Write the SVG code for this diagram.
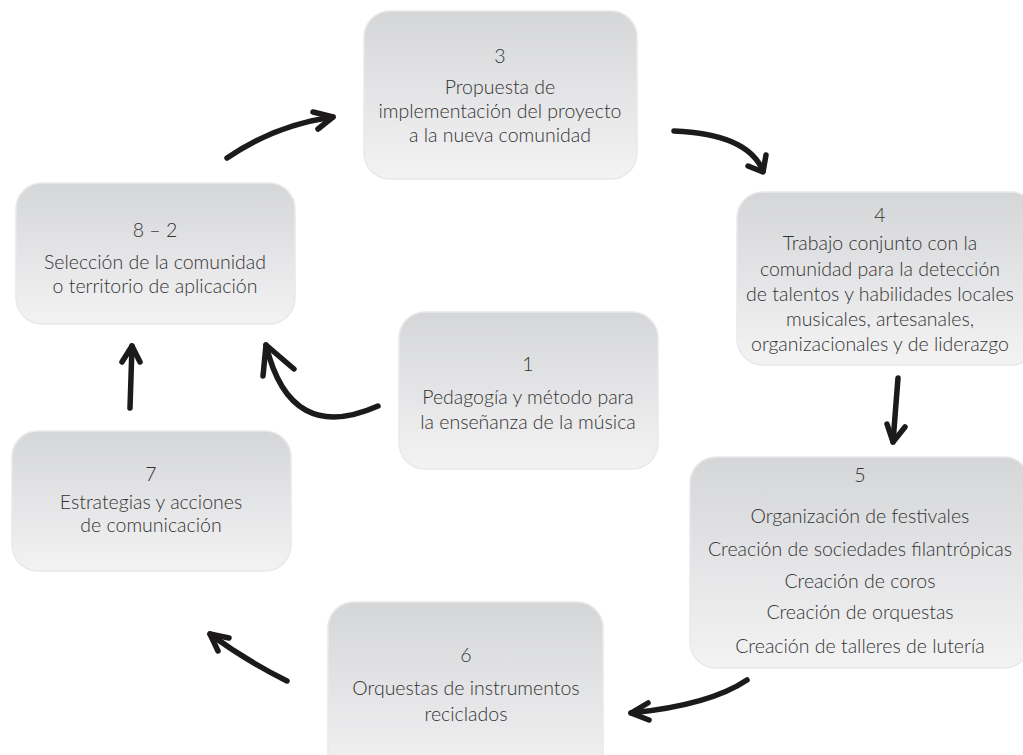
<svg xmlns="http://www.w3.org/2000/svg" width="1023" height="755" viewBox="0 0 1023 755">
<defs>
<linearGradient id="g" x1="0" y1="0" x2="0" y2="1">
<stop offset="0" stop-color="#d5d6d8"/>
<stop offset="1" stop-color="#f3f3f4"/>
</linearGradient>
<style>
.box{fill:url(#g);stroke:#e9e9ea;stroke-width:1.5}
.t{font-family:Lato,"Open Sans","Liberation Sans",sans-serif;font-size:19.5px;font-weight:300;fill:#333;text-anchor:middle}
.a{fill:none;stroke:#1c1a1b;stroke-width:5.5;stroke-linecap:round;stroke-linejoin:round}
</style>
</defs>
<rect width="1023" height="755" fill="#fff"/>
<g id="n3"><rect class="box" x="364" y="11" width="273" height="168" rx="26"/>
<text class="t" x="500" y="63">3</text>
<text class="t" x="500" y="94">Propuesta de</text>
<text class="t" x="500" y="118">implementación del proyecto</text>
<text class="t" x="500" y="142">a la nueva comunidad</text></g>
<g id="n82"><rect class="box" x="16" y="183" width="279" height="141" rx="26"/>
<text class="t" x="155" y="237">8 – 2</text>
<text class="t" x="155" y="269">Selección de la comunidad</text>
<text class="t" x="155" y="293">o territorio de aplicación</text></g>
<g id="n1"><rect class="box" x="399" y="312" width="259" height="157" rx="26"/>
<text class="t" x="528" y="371">1</text>
<text class="t" x="528" y="404">Pedagogía y método para</text>
<text class="t" x="528" y="429">la enseñanza de la música</text></g>
<g id="n7"><rect class="box" x="12" y="431" width="279" height="140" rx="26"/>
<text class="t" x="151" y="481">7</text>
<text class="t" x="151" y="509">Estrategias y acciones</text>
<text class="t" x="151" y="532">de comunicación</text></g>
<g id="n4"><rect class="box" x="737" y="192" width="300" height="173" rx="26"/>
<text class="t" x="880" y="222">4</text>
<text class="t" x="880" y="250">Trabajo conjunto con la</text>
<text class="t" x="880" y="276">comunidad para la detección</text>
<text class="t" x="880" y="301">de talentos y habilidades locales</text>
<text class="t" x="880" y="326">musicales, artesanales,</text>
<text class="t" x="880" y="351">organizacionales y de liderazgo</text></g>
<g id="n5"><rect class="box" x="690" y="457" width="340" height="211" rx="26"/>
<text class="t" x="860" y="482">5</text>
<text class="t" x="860" y="523">Organización de festivales</text>
<text class="t" x="860" y="556">Creación de sociedades filantrópicas</text>
<text class="t" x="860" y="588">Creación de coros</text>
<text class="t" x="860" y="619">Creación de orquestas</text>
<text class="t" x="860" y="653">Creación de talleres de lutería</text></g>
<g id="n6"><rect class="box" x="328" y="602" width="275" height="180" rx="26"/>
<text class="t" x="466" y="662">6</text>
<text class="t" x="466" y="695">Orquestas de instrumentos</text>
<text class="t" x="466" y="721">reciclados</text></g>
<g id="connectors">
<path class="a" d="M227,158 Q275,125 333,117"/>
<path class="a" d="M313,112 L333,117 L318,129"/>
<path class="a" d="M674,131 Q748,134 763,171"/>
<path class="a" d="M748,166 L763,172 L766,155"/>
<path class="a" d="M898,378 L893,442"/>
<path class="a" d="M887,424 L893,442 L905,427"/>
<path class="a" d="M747,680 Q710,705 631,713"/>
<path class="a" d="M648,703 L631,713 L649,720"/>
<path class="a" d="M287,681 Q245,660 210,634"/>
<path class="a" d="M229,638 L210,634 L218,651"/>
<path class="a" d="M130,408 L132,346"/>
<path class="a" d="M122,362 L132,346 L140,362"/>
<path class="a" d="M378,406 Q290,445 266,345"/>
<path class="a" d="M263,376 L266,345 L294,369"/>
</g>
</svg>
